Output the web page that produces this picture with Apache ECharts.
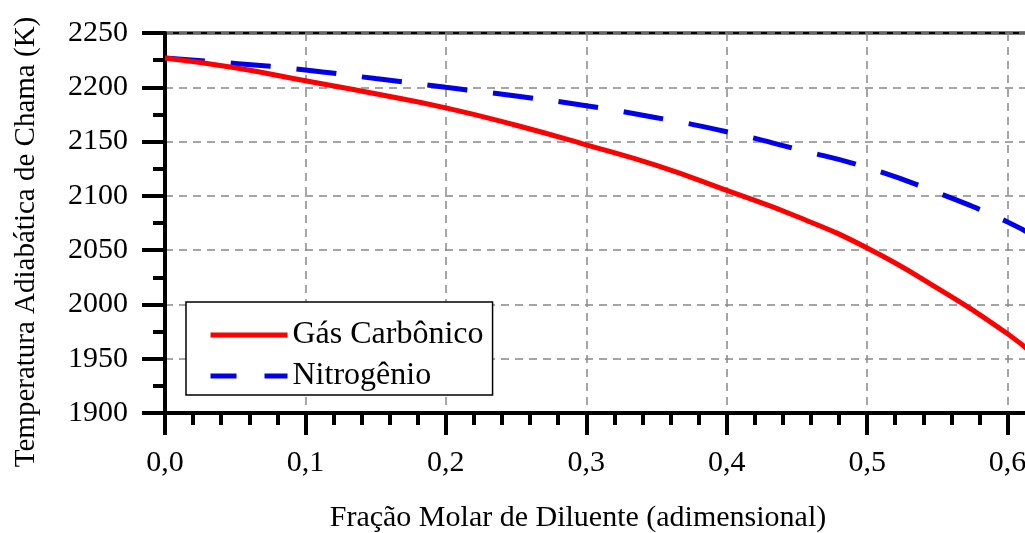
<!DOCTYPE html>
<html>
<head>
<meta charset="utf-8">
<script src="https://cdn.jsdelivr.net/npm/echarts@6/dist/echarts.min.js"></script>
<style>
  html, body { margin: 0; padding: 0; background: #fff; overflow: hidden; }
  #chart { width: 1148px; height: 533px; }
</style>
</head>
<body>
<div id="chart"></div>
<script>
// fração molar de diluente
const fracao = [0.0, 0.05, 0.1, 0.15, 0.2, 0.25, 0.3, 0.35, 0.4, 0.45, 0.5, 0.55, 0.6, 0.62]
// temperatura adiabática (K)
const gasCarbonico = [2227, 2218, 2206, 2194, 2181, 2165, 2147, 2128, 2105, 2081, 2052, 2015, 1973, 1952]
const nitrogenio = [2227, 2222, 2216, 2208, 2200, 2192, 2183, 2172, 2159, 2143, 2126, 2103, 2076, 2062]
const nomes = ['Gás Carbônico', 'Nitrogênio']

const fonte = 'Liberation Serif, Times New Roman, serif'
const pares = (ys) => fracao.map((x, i) => [x, ys[i]])

// o gráfico original está cortado à direita: a área de plotagem continua além de 0,6
let chart = echarts.init(document.getElementById('chart'))
chart.setOption({
  backgroundColor: '#fff',
  animation: false,
  grid: {
    left: 165,
    top: 33,
    right: 0,
    bottom: 120,
    outerBoundsMode: 'none',
    show: true,
    borderColor: '#000',
    borderWidth: 3,
    backgroundColor: '#fff'
  },
  legend: {
    orient: 'vertical',
    left: 186,
    top: 302,
    padding: [17, 9, 3, 22],
    itemWidth: 77,
    itemHeight: 14,
    itemGap: 9,
    backgroundColor: '#fff',
    borderColor: '#000',
    borderWidth: 1.5,
    itemStyle: { opacity: 0 },
    textStyle: { fontFamily: fonte, fontSize: 32, color: '#000', padding: [0, 0, 0, 0] },
    data: [
      { name: nomes[0], lineStyle: { width: 5 } },
      { name: nomes[1], lineStyle: { width: 5, type: [26, 28] } }
    ]
  },
  xAxis: {
    type: 'value',
    min: 0,
    max: 0.7,
    interval: 0.1,
    name: 'Fração Molar de Diluente (adimensional)',
    nameLocation: 'middle',
    nameGap: 90,
    nameTextStyle: { fontFamily: fonte, fontSize: 30, color: '#000', padding: [0, 157, 0, 0] },
    axisLine: { show: true, lineStyle: { color: '#000', width: 4 } },
    axisTick: { show: true, length: 22, lineStyle: { color: '#000', width: 4 } },
    minorTick: { show: true, splitNumber: 5, length: 12, lineStyle: { color: '#000', width: 4 } },
    axisLabel: {
      margin: 35,
      fontFamily: fonte,
      fontSize: 30,
      color: '#000',
      formatter: (v) => v.toFixed(1).replace('.', ',')
    },
    splitLine: { show: true, lineStyle: { color: '#888', width: 1.5, type: [8, 6] } }
  },
  yAxis: {
    type: 'value',
    min: 1900,
    max: 2250,
    interval: 50,
    name: 'Temperatura Adiabática de Chama (K)',
    nameLocation: 'middle',
    nameRotate: 90,
    nameGap: 124,
    nameTextStyle: { fontFamily: fonte, fontSize: 29, color: '#000', padding: [0, 38, 0, 0] },
    axisLine: { show: true, lineStyle: { color: '#000', width: 4 } },
    axisTick: { show: true, length: 23, lineStyle: { color: '#000', width: 4 } },
    minorTick: { show: true, splitNumber: 2, length: 12, lineStyle: { color: '#000', width: 4 } },
    axisLabel: { margin: 37, fontFamily: fonte, fontSize: 30, color: '#000', formatter: (v) => String(v) },
    splitLine: { show: true, lineStyle: { color: '#888', width: 1.5, type: [8, 6] } }
  },
  series: [
    {
      name: nomes[0],
      type: 'line',
      smooth: true,
      showSymbol: false,
      symbol: 'none',
      color: '#ff0000',
      lineStyle: { color: '#ff0000', width: 5 },
      data: pares(gasCarbonico),
      z: 3
    },
    {
      name: nomes[1],
      type: 'line',
      smooth: true,
      showSymbol: false,
      symbol: 'none',
      color: '#0000ee',
      lineStyle: { color: '#0000ee', width: 5, type: [40, 26] },
      data: pares(nitrogenio),
      z: 2
    }
  ]
})
</script>
</body>
</html>
